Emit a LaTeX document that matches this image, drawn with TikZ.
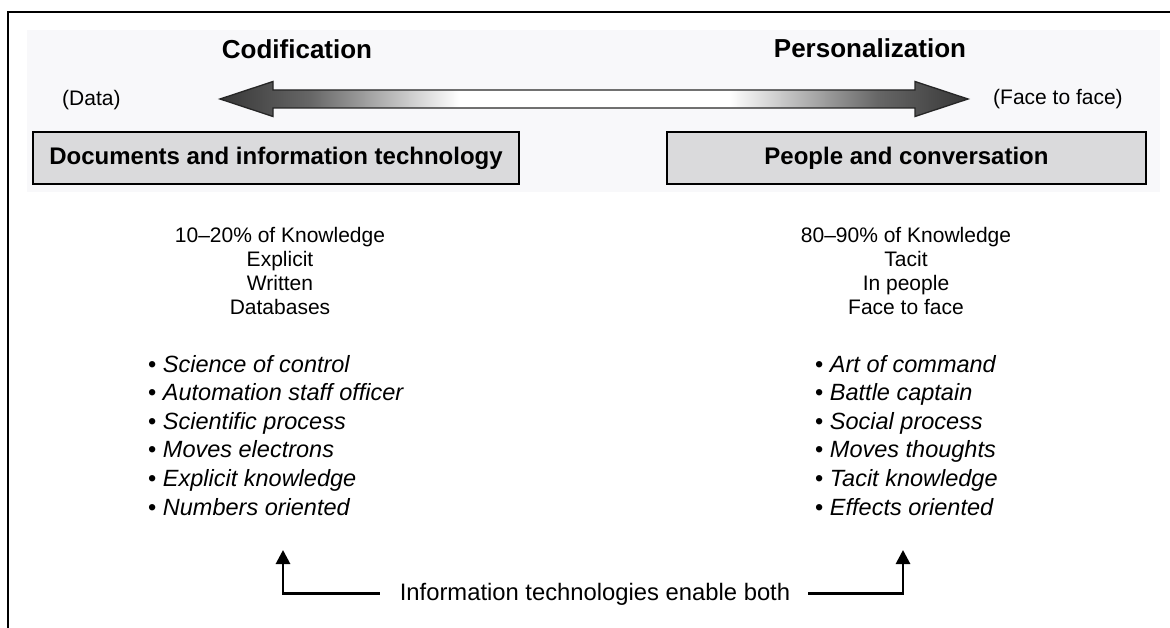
\documentclass[tikz,border=0pt]{standalone}
\usepackage{fontspec}
\setmainfont{Liberation Sans}
\usetikzlibrary{arrows.meta}
\definecolor{boxgray}{RGB}{218,218,220}
\definecolor{tint}{RGB}{248,248,250}
\definecolor{headdark}{RGB}{55,55,55}
\pgfdeclarehorizontalshading{dblshade}{100bp}{color(0bp)=(headdark); color(25bp)=(headdark); color(31bp)=(black!60); color(41bp)=(white); color(59bp)=(white); color(69bp)=(black!60); color(75bp)=(headdark); color(100bp)=(headdark)}
\begin{document}
\begin{tikzpicture}[x=1pt,y=-1pt,
  title/.style={font=\fontsize{26}{30}\selectfont\bfseries, anchor=base, inner sep=0},
  sidelabel/.style={font=\fontsize{21}{25}\selectfont, anchor=base west, inner sep=0},
  infobox/.style={draw=black, line width=2.6pt, fill=boxgray, inner sep=0,
    font=\fontsize{24}{28}\selectfont\bfseries},
  midline/.style={font=\fontsize{21}{24}\selectfont, anchor=base, inner sep=0},
  bulletline/.style={font=\fontsize{23.5}{28}\selectfont\itshape, anchor=base west, inner sep=0},
  enabler/.style={-{Triangle[width=14pt,length=14pt]}, line width=2.8pt, black}]
\useasboundingbox (0,0) rectangle (1170,628);
% faint background band and frame
\fill[tint] (27,30) rectangle (1160,192);
\draw[line width=2.6pt, line join=miter] (8,628) -- (8,12) -- (1170,12);
% titles
\node[title] (codif) at (297,59) {Codification};
\node[title] (pers) at (870,58) {Personalization};
\node[sidelabel] (data) at (62,106) {(Data)};
\node[sidelabel] (face) at (993,105) {(Face to face)};
% double arrow
\path[draw=black!85, line width=1.3pt, line join=miter, shade, shading=dblshade]
  (220,99) -- (273,81.5) -- (273,90) -- (915,90) -- (915,81.5) -- (968,99)
  -- (915,116.5) -- (915,108) -- (273,108) -- (273,116.5) -- cycle;
% boxes
\node[infobox, minimum width=486pt, minimum height=52pt] (leftbox) at (276,158) {Documents and information technology};
\node[infobox, minimum width=479pt, minimum height=52pt] (rightbox) at (906.5,158) {People and conversation};
% middle texts
\foreach \t [count=\i] in {10–20\% of Knowledge, Explicit, Written, Databases}
  \node[midline] (lm\i) at (280,{243+23.7*(\i-1)}) {\t};
\foreach \t [count=\i] in {80–90\% of Knowledge, Tacit, In people, Face to face}
  \node[midline] (rm\i) at (906,{243+23.7*(\i-1)}) {\t};
% bullet lists
\foreach \t [count=\i] in {Science of control, Automation staff officer, Scientific process, Moves electrons, Explicit knowledge, Numbers oriented}
  \node[bulletline] (lb\i) at (148,{372+28.6*(\i-1)}) {{\upshape •}\ \t};
\foreach \t [count=\i] in {Art of command, Battle captain, Social process, Moves thoughts, Tacit knowledge, Effects oriented}
  \node[bulletline] (rb\i) at (815,{372+28.6*(\i-1)}) {{\upshape •}\ \t};
% bottom
\node[font=\fontsize{23.8}{28}\selectfont, anchor=base, inner sep=0] (enable) at (595,600) {Information technologies enable both};
\coordinate (ltip) at (283,550);
\coordinate (rtip) at (903,550);
\draw[enabler] ([xshift=-20pt]enable.west) -| (ltip);
\draw[enabler] ([xshift=18pt]enable.east) -| (rtip);
\end{tikzpicture}
\end{document}
